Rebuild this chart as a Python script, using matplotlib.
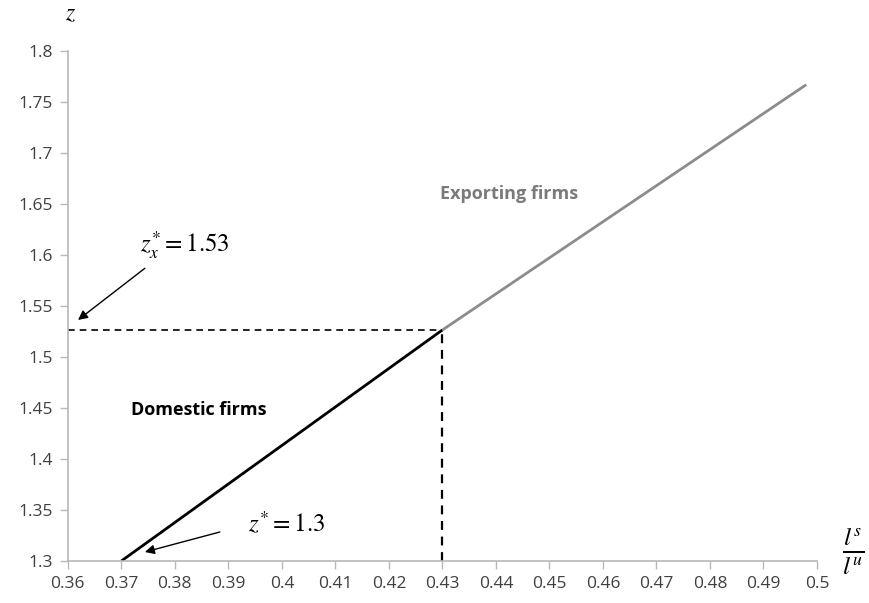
import matplotlib
matplotlib.use("Agg")
import matplotlib.pyplot as plt

plt.rcParams['font.family'] = ['Open Sans', 'DejaVu Sans']
plt.rcParams['mathtext.fontset'] = 'stix'

# skill ratio l^s/l^u against productivity cutoff z
domestic_x = [0.37, 0.43]
domestic_z = [1.30, 1.5265]
export_x = [0.43, 0.498]
export_z = [1.5265, 1.767]
z_star = 1.3
zx_star = 1.5265
kink_x = 0.43

x_ticks = [0.36, 0.37, 0.38, 0.39, 0.40, 0.41, 0.42, 0.43, 0.44, 0.45,
           0.46, 0.47, 0.48, 0.49, 0.50]
x_labels = ['0.36', '0.37', '0.38', '0.39', '0.4', '0.41', '0.42', '0.43',
            '0.44', '0.45', '0.46', '0.47', '0.48', '0.49', '0.5']
y_ticks = [1.3, 1.35, 1.4, 1.45, 1.5, 1.55, 1.6, 1.65, 1.7, 1.75, 1.8]
y_labels = ['1.3', '1.35', '1.4', '1.45', '1.5', '1.55', '1.6', '1.65',
            '1.7', '1.75', '1.8']

fig = plt.figure(figsize=(8.7, 6.03), dpi=100)
ax = fig.add_axes([0.078, 0.0697, 0.861, 0.8457])

ax.plot(domestic_x, domestic_z, color='black', lw=2, solid_capstyle='butt')
ax.plot(export_x, export_z, color='#8c8c8c', lw=2, solid_capstyle='butt')
ax.plot([0.36, kink_x], [zx_star, zx_star], color='black', lw=1.2, ls=(0, (4, 3)))
ax.plot([kink_x, kink_x], [z_star, zx_star], color='black', lw=1.6, ls=(0, (4, 3)),
        clip_on=False)

ax.set_xlim(0.36, 0.50)
ax.set_ylim(1.3, 1.8)
ax.set_xticks(x_ticks)
ax.set_xticklabels(x_labels)
ax.set_yticks(y_ticks)
ax.set_yticklabels(y_labels)

for side in ['top', 'right']:
    ax.spines[side].set_visible(False)
for side in ['left', 'bottom']:
    ax.spines[side].set_color('#b8b8b8')
    ax.spines[side].set_linewidth(1.2)
ax.tick_params(direction='out', length=6, color='#b8b8b8', width=1,
               labelsize=12.5, labelcolor='#404040', pad=5)

ax.text(0.3845, 1.448, 'Domestic firms', fontsize=13, fontweight='bold',
        color='black', ha='center', va='center')
ax.text(0.4424, 1.66, 'Exporting firms', fontsize=13, fontweight='bold',
        color='#7a7a7a', ha='center', va='center')

# cutoff labels with arrows pointing at the axis values
ax.text(0.3735, 1.61, r'$z_x^{*}=1.53$', fontsize=18, ha='left', va='center')
ax.annotate('', xy=(0.3619, 1.5363), xytext=(0.3744, 1.587),
            arrowprops=dict(arrowstyle='-|>', color='black', lw=1,
                            mutation_scale=14, shrinkA=0, shrinkB=0))
ax.text(0.3937, 1.3353, r'$z^{*}=1.3$', fontsize=18, ha='left', va='center')
ax.annotate('', xy=(0.3744, 1.3088), xytext=(0.3884, 1.3284),
            arrowprops=dict(arrowstyle='-|>', color='black', lw=1,
                            mutation_scale=14, shrinkA=0, shrinkB=0))

ax.text(0.3605, 1.836, r'$z$', fontsize=17, ha='center', va='center',
        clip_on=False)
ax.text(0.5047, 1.31, r'$\frac{l^s}{l^u}$', fontsize=26, ha='left', va='center',
        clip_on=False)

fig.savefig('out.png', dpi=100)
